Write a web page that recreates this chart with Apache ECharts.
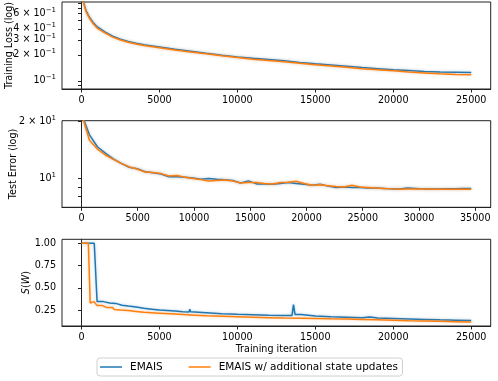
<!DOCTYPE html>
<html>
<head>
<meta charset="utf-8">
<script src="https://cdn.jsdelivr.net/npm/echarts@6/dist/echarts.min.js"></script>
<style>
  html, body { margin: 0; padding: 0; background: #fff; }
  #chart { width: 498px; height: 381px; }
</style>
</head>
<body>
<div id="chart"></div>
<script>
// ---- data ----
const seriesNames = ['EMAIS', 'EMAIS w/ additional state updates']

// training loss (log scale)
const lossIter = [0, 100, 200, 300, 500, 750, 1000, 1500, 2000, 2500, 3000, 3500, 4000, 5000, 6000, 7000, 8000,
  9000, 10000, 11000, 12000, 13000, 14000, 15000, 16000, 17000, 18000, 19000, 20000, 21000, 22000, 23000, 24000, 25000]
const lossEmais = [3.0, 0.87, 0.74, 0.65, 0.55, 0.475, 0.425, 0.37, 0.33, 0.305, 0.287, 0.273, 0.262, 0.247, 0.233, 0.221, 0.209,
  0.199, 0.19, 0.183, 0.177, 0.171, 0.164, 0.158, 0.153, 0.148, 0.143, 0.139, 0.135, 0.132, 0.129, 0.127, 0.126, 0.125]
const lossEmaisUpd = [3.0, 0.85, 0.72, 0.63, 0.535, 0.46, 0.41, 0.36, 0.322, 0.298, 0.281, 0.268, 0.257, 0.243, 0.229, 0.217, 0.206,
  0.196, 0.187, 0.179, 0.173, 0.167, 0.16, 0.154, 0.149, 0.144, 0.139, 0.135, 0.131, 0.127, 0.124, 0.121, 0.119, 0.118]

// test error (log scale)
const errIter = [0, 707, 1414, 2121, 2828, 3535, 4242, 4949, 5656, 6363, 7070, 7777, 8484, 9191, 9898, 10605, 11312,
  12019, 12726, 13433, 14140, 14847, 15554, 16261, 16968, 17675, 18382, 19089, 19796, 20503, 21210, 21917, 22624,
  23331, 24038, 24745, 25452, 26159, 26866, 27573, 28280, 28987, 29694, 30401, 31108, 31815, 32522, 33229, 33936, 34643]
const errEmais = [22, 17.0, 14.7, 13.6, 12.7, 12.0, 11.45, 11.25, 10.85, 10.7, 10.55, 10.2, 10.2, 10.15, 10.05, 9.9, 10.0,
  9.9, 9.85, 9.75, 9.45, 9.7, 9.35, 9.35, 9.3, 9.4, 9.5, 9.4, 9.3, 9.2, 9.3, 9.1, 8.95,
  9.0, 8.95, 8.95, 8.9, 8.9, 8.85, 8.8, 8.8, 8.9, 8.85, 8.8, 8.8, 8.8, 8.82, 8.82, 8.84, 8.84]
const errEmaisUpd = [22, 15.9, 14.3, 13.3, 12.6, 12.0, 11.5, 11.2, 10.8, 10.75, 10.6, 10.3, 10.35, 10.15, 10.0, 9.85, 9.7,
  9.75, 9.8, 9.7, 9.45, 9.5, 9.5, 9.4, 9.35, 9.5, 9.55, 9.65, 9.4, 9.2, 9.25, 9.15, 9.05,
  9.0, 9.2, 9.0, 8.95, 8.9, 8.85, 8.8, 8.75, 8.78, 8.8, 8.78, 8.75, 8.75, 8.75, 8.76, 8.77, 8.77]

// S(W)
const sIterEmais = [0, 820, 1000, 1400, 1800, 2200, 2600, 3000, 3500, 4000, 4500, 5000, 5500, 6000, 6500, 6900, 6950,
  7000, 7500, 8000, 8500, 9000, 9500, 10000, 11000, 12000, 13000, 13500, 13600, 13700, 13800, 14100, 14200, 15000,
  16000, 17000, 18000, 18500, 18600, 19000, 20000, 21000, 22000, 23000, 24000, 25000]
const sEmais = [1.0, 1.0, 0.345, 0.345, 0.33, 0.325, 0.305, 0.295, 0.285, 0.27, 0.26, 0.25, 0.245, 0.24, 0.232, 0.228, 0.26,
  0.23, 0.225, 0.22, 0.215, 0.21, 0.207, 0.203, 0.198, 0.193, 0.19, 0.188, 0.31, 0.2, 0.188, 0.2, 0.186, 0.182,
  0.175, 0.17, 0.165, 0.172, 0.162, 0.16, 0.155, 0.15, 0.145, 0.14, 0.136, 0.132]
const sIterUpd = [0, 440, 560, 650, 800, 900, 1000, 1350, 1400, 1600, 2000, 2100, 2500, 3000, 3500, 4000, 5000, 6000,
  7000, 8000, 9000, 10000, 11000, 12000, 13000, 14000, 15000, 16000, 17000, 18000, 19000, 20000, 21000, 22000, 23000, 24000, 25000]
const sUpd = [1.0, 1.0, 0.33, 0.325, 0.345, 0.345, 0.30, 0.30, 0.305, 0.28, 0.278, 0.255, 0.25, 0.245, 0.235, 0.225, 0.215, 0.205,
  0.195, 0.185, 0.18, 0.175, 0.17, 0.165, 0.16, 0.158, 0.155, 0.152, 0.15, 0.145, 0.14, 0.135, 0.13, 0.127, 0.123, 0.119, 0.115]

// ticks
const iterTicks = [0, 5000, 10000, 15000, 20000, 25000]
const errIterTicks = [0, 5000, 10000, 15000, 20000, 25000, 30000, 35000]
const lossTicks = [0.08, 0.09, 0.1, 0.2, 0.3, 0.4, 0.5, 0.6, 0.7, 0.8]
const lossLabelVals = [0.1, 0.2, 0.3, 0.4, 0.6]
const lossLabelMant = ['', '2', '3', '4', '6']
const errTicks = [7, 8, 9, 10, 20]
const errLabelVals = [10, 20]
const errLabelMant = ['', '2']
const sTicks = [0.25, 0.5, 0.75, 1.0]

const FONT = 'DejaVu Sans'
const BLUE = '#1f77b4'
const ORANGE = '#ff7f0e'

const chart = echarts.init(document.getElementById('chart'))

const lg = v => Math.log10(v)
const pairs = (xs, ys, f) => xs.map((x, i) => [x, f ? f(ys[i]) : ys[i]])

// label for log ticks, like 6 × 10^-1
const logFormatter = (vals, mants, exp) => v => {
  let k = 0
  vals.forEach((t, i) => { if (Math.abs(lg(t) - v) < Math.abs(lg(vals[k]) - v)) k = i })
  const m = mants[k]
  return m ? `{b|${m} × 10}{s|${exp}}` : `{b|10}{s|${exp}}`
}
const richTicks = {
  b: { fontSize: 9.6, fontFamily: FONT, color: '#000' },
  s: { fontSize: 7, fontFamily: FONT, color: '#000', padding: [0, 0, 7, 0] }
}

const axisCommon = {
  axisLine: { show: true, lineStyle: { color: '#222', width: 1 } },
  axisTick: { show: true, length: 3.5, lineStyle: { color: '#222' } },
  splitLine: { show: false },
  nameMoveOverlap: false,
  nameTextStyle: { fontFamily: FONT, fontSize: 9.6, color: '#000' }
}

const makeX = (gi, min, max, ticks, name) => ({
  ...axisCommon,
  type: 'value', gridIndex: gi, min, max,
  axisTick: { ...axisCommon.axisTick, customValues: ticks },
  axisLabel: { customValues: ticks, formatter: v => String(v), fontFamily: FONT, fontSize: 9.6, color: '#000', margin: 6 },
  name: name || '', nameLocation: 'middle', nameGap: 18
})

const line = (name, color, gi, data) => ({
  type: 'line', name, xAxisIndex: gi, yAxisIndex: gi, data,
  symbol: 'none', showSymbol: false, clip: true, animation: false,
  lineStyle: { color, width: 1.5, shadowColor: color === BLUE ? 'rgba(31,119,180,0.35)' : 'rgba(255,127,14,0.35)', shadowBlur: 3 },
  itemStyle: { color }
})

const grid = (top, height) => ({
  left: 62, width: 428.7, top, height, containLabel: false, outerBoundsMode: 'none',
  show: true, borderColor: '#222', borderWidth: 1
})

chart.setOption({
  animation: false,
  textStyle: { fontFamily: FONT },
  grid: [grid(2, 87), grid(120.7, 86.6), grid(239.3, 86.7)],
  xAxis: [
    makeX(0, -1250, 26250, iterTicks),
    makeX(1, -1732, 36375, errIterTicks),
    makeX(2, -1250, 26250, iterTicks, 'Training iteration')
  ],
  yAxis: [
    {
      ...axisCommon, type: 'value', gridIndex: 0, min: lg(0.0808), max: lg(0.82),
      axisTick: { ...axisCommon.axisTick, customValues: lossTicks.map(lg) },
      axisLabel: { customValues: lossLabelVals.map(lg), formatter: logFormatter(lossLabelVals, lossLabelMant, '−1'), rich: richTicks, margin: 6 },
      name: 'Training Loss (log)', nameLocation: 'middle', nameGap: 48
    },
    {
      ...axisCommon, type: 'value', gridIndex: 1, min: lg(7.03), max: lg(20.2),
      axisTick: { ...axisCommon.axisTick, customValues: errTicks.map(lg) },
      axisLabel: { customValues: errLabelVals.map(lg), formatter: logFormatter(errLabelVals, errLabelMant, '1'), rich: richTicks, margin: 6 },
      name: 'Test Error (log)', nameLocation: 'middle', nameGap: 44
    },
    {
      ...axisCommon, type: 'value', gridIndex: 2, min: 0.071, max: 1.045,
      axisTick: { ...axisCommon.axisTick, customValues: sTicks },
      axisLabel: { customValues: sTicks, formatter: v => v.toFixed(2), fontFamily: FONT, fontSize: 9.6, color: '#000', margin: 6 },
      name: '{i|S}({i|W})', nameLocation: 'middle', nameGap: 31,
      nameTextStyle: { fontFamily: FONT, fontSize: 9.6, color: '#000', rich: { i: { fontStyle: 'italic', fontFamily: FONT, fontSize: 9.6 } } }
    }
  ],
  legend: {
    left: 97, top: 358, padding: [3.5, 4.5, 3.5, 3], itemGap: 26, itemWidth: 22, itemHeight: 12,
    borderColor: '#d0d0d0', borderWidth: 1, borderRadius: 3,
    textStyle: { fontFamily: FONT, fontSize: 10.5, color: '#000', padding: [0, 0, 0, 3] },
    data: seriesNames.map(name => ({ name, icon: 'path://M0,5.25 L22,5.25 L22,6.75 L0,6.75 Z' }))
  },
  series: [
    line(seriesNames[0], BLUE, 0, pairs(lossIter, lossEmais, lg)),
    line(seriesNames[1], ORANGE, 0, pairs(lossIter, lossEmaisUpd, lg)),
    line(seriesNames[0], BLUE, 1, pairs(errIter, errEmais, lg)),
    line(seriesNames[1], ORANGE, 1, pairs(errIter, errEmaisUpd, lg)),
    line(seriesNames[0], BLUE, 2, pairs(sIterEmais, sEmais)),
    line(seriesNames[1], ORANGE, 2, pairs(sIterUpd, sUpd))
  ]
})
</script>
</body>
</html>
